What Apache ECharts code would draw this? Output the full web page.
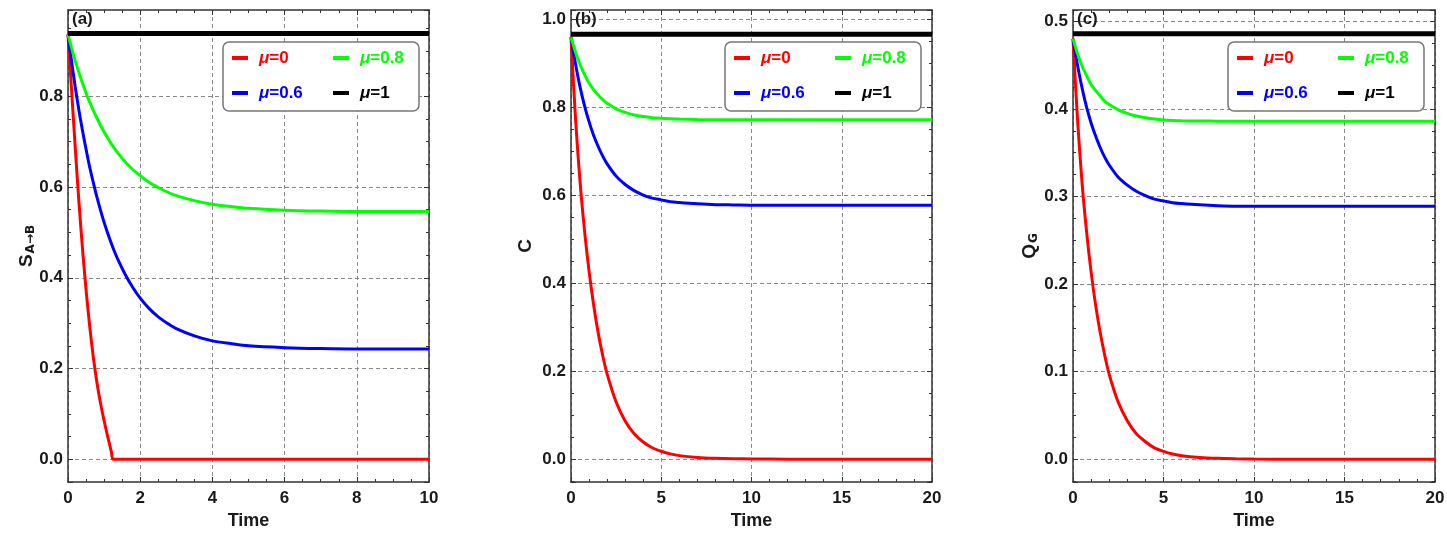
<!DOCTYPE html>
<html>
<head>
<meta charset="utf-8">
<script src="https://cdn.jsdelivr.net/npm/echarts@6/dist/echarts.min.js"></script>
<style>
html,body{margin:0;padding:0;background:#fff;}
#chart{width:1447px;height:533px;}
</style>
</head>
<body>
<div id="chart"></div>
<script>
// ---------- data ----------
const muNames = ['μ=0', 'μ=0.6', 'μ=0.8', 'μ=1'];

// panel (a)
const timeA = [0,0.1,0.2,0.3,0.4,0.5,0.6,0.7,0.8,0.9,1.0,1.1,1.2,1.25,1.4,1.6,1.8,2.0,2.25,2.5,2.75,3,3.5,4,4.5,5,6,7,8,9,10];
const redA = [0.936,0.812,0.688,0.570,0.466,0.374,0.294,0.226,0.170,0.124,0.085,0.050,0.017,0,0,0,0,0,0,0,0,0,0,0,0,0,0,0,0,0,0];
const blueA = [0.936,0.876,0.821,0.770,0.725,0.683,0.644,0.610,0.578,0.549,0.522,0.498,0.476,0.465,0.437,0.405,0.378,0.355,0.332,0.314,0.300,0.288,0.272,0.261,0.255,0.250,0.246,0.244,0.243,0.243,0.243];
const greenA = [0.936,0.906,0.878,0.853,0.829,0.807,0.787,0.769,0.752,0.736,0.721,0.708,0.695,0.689,0.673,0.654,0.638,0.625,0.610,0.599,0.589,0.581,0.570,0.562,0.557,0.553,0.549,0.547,0.546,0.546,0.546];
const blackTimeA = [0, 10];
const blackA = [0.938, 0.938];

// panel (b)
const timeB = [0,0.25,0.5,0.75,1,1.25,1.5,1.75,2,2.5,3,3.5,4,4.5,5,5.5,6,7,8,9,10,12,14,16,18,20];
const redB = [0.960,0.775,0.632,0.520,0.428,0.352,0.289,0.237,0.194,0.130,0.087,0.058,0.039,0.026,0.018,0.012,0.008,0.004,0.002,0.001,0.0005,0,0,0,0,0];
const blueB = [0.960,0.899,0.847,0.804,0.768,0.737,0.712,0.690,0.672,0.644,0.625,0.611,0.601,0.594,0.590,0.586,0.584,0.581,0.579,0.5785,0.578,0.578,0.578,0.578,0.578,0.578];
const greenB = [0.960,0.926,0.898,0.875,0.856,0.841,0.829,0.818,0.810,0.797,0.789,0.783,0.7795,0.777,0.7755,0.7745,0.7737,0.7728,0.7723,0.772,0.772,0.772,0.772,0.772,0.772,0.772];
const blackTimeB = [0, 20];
const blackB = [0.967, 0.967];

// panel (c)
const timeC = [0,0.25,0.5,0.75,1,1.25,1.5,1.75,2,2.5,3,3.5,4,4.5,5,5.5,6,7,8,9,10,12,14,16,18,20];
const redC = [0.480,0.388,0.316,0.260,0.214,0.176,0.145,0.119,0.097,0.065,0.044,0.029,0.020,0.013,0.009,0.006,0.004,0.002,0.001,0.0005,0.0002,0,0,0,0,0];
const blueC = [0.480,0.450,0.424,0.402,0.384,0.369,0.356,0.345,0.336,0.322,0.313,0.306,0.301,0.297,0.295,0.293,0.292,0.2905,0.2895,0.289,0.289,0.289,0.289,0.289,0.289,0.289];
const greenC = [0.480,0.463,0.449,0.438,0.428,0.421,0.415,0.409,0.405,0.399,0.395,0.392,0.3900,0.3885,0.3875,0.3869,0.3865,0.3862,0.3861,0.386,0.386,0.386,0.386,0.386,0.386,0.386];
const blackTimeC = [0, 20];
const blackC = [0.486, 0.486];

const xTicksA = [0, 10, 2];   // min, max, interval
const xTicksBC = [0, 20, 5];

// ---------- styling / layout ----------
const FONT = '"Liberation Sans", Arial, Helvetica, sans-serif';
const colors = {'μ=0':'#ff0000','μ=0.6':'#0000ff','μ=0.8':'#00ff00','μ=1':'#000000'};
const keyOf = {'μ=0':'r','μ=0.6':'b','μ=0.8':'g','μ=1':'k'};

const panels = [
  {left:68, width:361, ymin:-0.05, ymax:0.99, x:xTicksA, xMinor:4, label:'(a)',
   yname:'{s|S}{sub|A→B}', nameGap:31, legendLeft:223,
   curves:[[timeA,redA],[timeA,blueA],[timeA,greenA],[blackTimeA,blackA]]},
  {left:571, width:361, ymin:-0.052, ymax:1.022, x:xTicksBC, xMinor:5, label:'(b)',
   yname:'{s|C}', nameGap:35, legendLeft:725,
   curves:[[timeB,redB],[timeB,blueB],[timeB,greenB],[blackTimeB,blackB]]},
  {left:1073, width:362, ymin:-0.026, ymax:0.513, x:xTicksBC, xMinor:5, label:'(c)',
   yname:'{s|Q}{sub|G}', nameGap:33, legendLeft:1228,
   curves:[[timeC,redC],[timeC,blueC],[timeC,greenC],[blackTimeC,blackC]]}
];

const TOP = 10, HEIGHT = 472;
const frameColor = '#333';
const grid = [], xAxis = [], yAxis = [], series = [], legend = [], title = [], graphic = [];

const rich = {};
Object.keys(colors).forEach(n => {
  const k = keyOf[n];
  rich[k + 'i'] = {color: colors[n], fontStyle:'italic', fontWeight:'bold', fontSize:17, fontFamily:FONT, padding:[0,0,0,6], lineHeight:24};
  rich[k + 'n'] = {color: colors[n], fontWeight:'bold', fontSize:17, fontFamily:FONT, lineHeight:24};
});
const legendFormatter = name => '{' + keyOf[name] + 'i|μ}{' + keyOf[name] + 'n|' + name.slice(1) + '}';

panels.forEach((p, i) => {
  grid.push({left:p.left, top:TOP, width:p.width, height:HEIGHT, containLabel:false, outerBoundsMode:'none', show:false});
  const [xmin, xmax, xint] = p.x;
  const axisLine = {show:true, onZero:false, lineStyle:{color:frameColor, width:1.5}};
  const tickIn = {show:true, inside:true, length:5, lineStyle:{color:frameColor, width:1}};
  const minorIn = {show:true, length:3, lineStyle:{color:frameColor, width:1}};
  const dashed = {show:true, lineStyle:{color:'#8a8a8a', width:1, type:[4,3]}};
  // bottom x
  xAxis.push({type:'value', gridIndex:i, position:'bottom', min:xmin, max:xmax, interval:xint,
    axisLine, axisTick:tickIn, minorTick:Object.assign({splitNumber:p.xMinor}, minorIn),
    splitLine:dashed,
    axisLabel:{show:true, margin:8, color:'#1a1a1a', fontSize:17, fontWeight:'bold', fontFamily:FONT},
    name:'Time', nameLocation:'middle', nameGap:30, nameMoveOverlap:false,
    nameTextStyle:{fontSize:18, fontWeight:'bold', color:'#1a1a1a', fontFamily:FONT}});
  // top x (mirror ticks)
  xAxis.push({type:'value', gridIndex:i, position:'top', min:xmin, max:xmax, interval:xint,
    axisLine, axisTick:tickIn, minorTick:Object.assign({splitNumber:p.xMinor}, minorIn),
    splitLine:{show:false}, axisLabel:{show:false}});
  // left y
  yAxis.push({type:'value', gridIndex:i, position:'left', min:p.ymin, max:p.ymax, splitNumber:5,
    axisLine, axisTick:tickIn, minorTick:Object.assign({splitNumber:4}, minorIn),
    splitLine:Object.assign({showMinLine:false, showMaxLine:false}, dashed),
    axisLabel:{show:true, margin:5, color:'#1a1a1a', fontSize:17, fontWeight:'bold', fontFamily:FONT,
      showMinLabel:false, showMaxLabel:false, formatter:v => v.toFixed(1)},
    name:p.yname, nameLocation:'middle', nameGap:p.nameGap, nameRotate:90, nameMoveOverlap:false,
    nameTextStyle:{fontFamily:FONT, color:'#1a1a1a', rich:{
      s:{fontSize:19, fontWeight:'bold', fontFamily:FONT, color:'#1a1a1a', verticalAlign:'top', lineHeight:20},
      sub:{fontSize:12, fontWeight:'bold', fontFamily:'"DejaVu Sans", sans-serif', color:'#1a1a1a', verticalAlign:'bottom', lineHeight:13, padding:[9,0,0,1]}
    }}});
  // right y (mirror ticks)
  yAxis.push({type:'value', gridIndex:i, position:'right', min:p.ymin, max:p.ymax, splitNumber:5,
    axisLine, axisTick:tickIn, minorTick:Object.assign({splitNumber:4}, minorIn),
    splitLine:{show:false}, axisLabel:{show:false}});

  muNames.forEach((name, j) => {
    const [tt, vv] = p.curves[j];
    series.push({type:'line', name, xAxisIndex:2*i, yAxisIndex:2*i,
      data: tt.map((t, k) => [t, vv[k]]),
      showSymbol:false, symbol:'none', smooth: name === 'μ=1' ? false : 0.3,
      animation:false, silent:true,
      lineStyle:{color:colors[name], width: name === 'μ=1' ? 5 : 3},
      itemStyle:{color:colors[name]},
      z: name === 'μ=1' ? 3 : 2});
  });

  title.push({text:p.label, left:p.left + 4, top:TOP + 1, padding:0,
    textStyle:{fontSize:17, fontWeight:'bold', color:'#1a1a1a', fontFamily:FONT}});

  graphic.push({type:'rect', z:3, silent:true,
    shape:{x:p.legendLeft, y:42, width:196, height:69, r:6},
    style:{fill:'#ffffff', stroke:'#777777', lineWidth:1.5}});

  const legendBase = {orient:'vertical', top:46, padding:0, itemGap:11, itemWidth:16, itemHeight:4,
    icon:'rect', selectedMode:false, z:5, formatter:legendFormatter,
    textStyle:{fontSize:17, fontWeight:'bold', fontFamily:FONT, lineHeight:24, rich}};
  legend.push(Object.assign({}, legendBase, {left:p.legendLeft + 9, data:['μ=0', 'μ=0.6']}));
  legend.push(Object.assign({}, legendBase, {left:p.legendLeft + 110, data:['μ=0.8', 'μ=1']}));
});

const chart = echarts.init(document.getElementById('chart'), null, {renderer:'canvas'});
chart.setOption({
  backgroundColor:'#ffffff',
  animation:false,
  title, grid, xAxis, yAxis, series, legend, graphic
});
</script>
</body>
</html>
